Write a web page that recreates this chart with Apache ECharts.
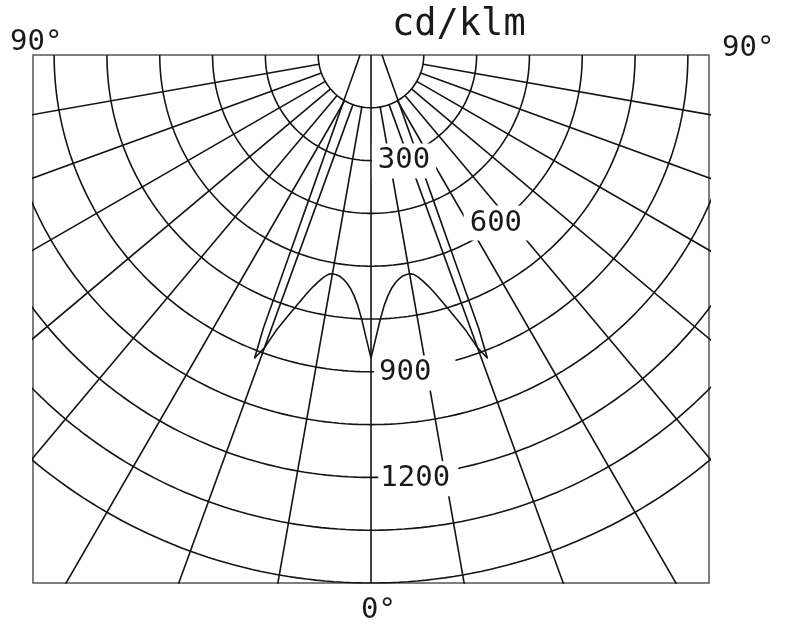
<!DOCTYPE html>
<html>
<head>
<meta charset="utf-8">
<script src="https://cdn.jsdelivr.net/npm/echarts@6/dist/echarts.min.js"></script>
<style>html,body{margin:0;padding:0;background:#fff}#c{width:789px;height:625px}</style>
</head>
<body>
<div id="c"></div>
<script>
// ---- data (cd/klm vs. angle from nadir, symmetric curve) ----
const curveAngles = [0,1,2,3,4,5,6,7,8,9,10,11,12,13,14,15,16,17,18,19,20,21,21.5,22,23,24,25,27.5,30,35,40,45,50,60,70,80,90];
const curveValues = [861,803,752,713,686,666,652,642,635,632,631,635,645,660,678,700,727,757,790,828,885,922,835,665,478,372,305,211,161,110,84,68,58,45,38,34,31];
// polar grid
const ringValues = [150,300,450,600,750,900,1050,1200,1350,1500];
const spokeAngles = [10,20,30,40,50,60,70,80];
// ring tick labels
const ringLabelTexts = ['300','600','900','1200'];
const ringLabelPlacement = [[307,17.8],[588,37.1],[900,6.2],[1202,6.0]]; // [radius, angle]
const ringLabelPadding = [[3,6,3,6],[3,6,3,6],[3,24,3,5],[3,8,3,2]];
const angleLabels = ['90°','90°','0°'];
const unitLabel = 'cd/klm';

const rMax = 1500, xHalf = 960;
const rad = a => a * Math.PI / 180;
const toXY = (r, a) => [r * Math.sin(rad(a)), r * Math.cos(rad(a))];

const lineColor = '#141414';
const lw = 1.6;
const font = 'DejaVu Sans Mono';
const series = [];

// circles (lower half)
ringValues.forEach(r => {
  const pts = [];
  for (let a = -90; a <= 90; a += 1) pts.push(toXY(r, a));
  series.push({type:'line', data:pts, showSymbol:false, silent:true, clip:true, z:2,
    lineStyle:{color:lineColor, width:lw}});
});
// spokes
spokeAngles.forEach(a => {
  [a, -a].forEach(s => {
    series.push({type:'line', data:[toXY(ringValues[0], s), toXY(3000, s)], showSymbol:false, silent:true, clip:true, z:2,
      lineStyle:{color:lineColor, width:lw}});
  });
});
// 0° axis
series.push({type:'line', data:[[0,0],[0,rMax]], showSymbol:false, silent:true, clip:true, z:2,
  lineStyle:{color:lineColor, width:lw}});

// intensity curve: left 90 -> 0 -> right 90
const curvePts = [];
for (let i = curveAngles.length - 1; i >= 0; i--) curvePts.push(toXY(curveValues[i], -curveAngles[i]));
for (let i = 1; i < curveAngles.length; i++) curvePts.push(toXY(curveValues[i], curveAngles[i]));
series.push({type:'line', data:curvePts, showSymbol:false, silent:true, clip:true, z:3,
  lineStyle:{color:lineColor, width:lw, join:'round'}});

// ring labels
series.push({type:'scatter', symbolSize:0, silent:true, z:10, itemStyle:{opacity:1},
  data: ringLabelPlacement.map((p, i) => {
    const pad = ringLabelPadding[i];
    return {value: toXY(p[0], p[1]), name: ringLabelTexts[i],
      label:{padding: pad, offset:[(pad[1] - pad[3]) / 2, 3]}};
  }),
  label:{show:true, position:'inside', formatter: p => p.name, color:'#1a1a1a', opacity:1, textBorderWidth:0,
    fontFamily:font, fontSize:29, backgroundColor:'#fff'}
});

const chart = echarts.init(document.getElementById('c'), null, {renderer:'canvas'});
chart.setOption({
  animation:false,
  backgroundColor:'#fff',
  grid:{left:33, right:80, top:55, bottom:42, show:true, borderColor:'#555', borderWidth:1.5, backgroundColor:'transparent'},
  xAxis:{type:'value', min:-xHalf, max:xHalf, show:false},
  yAxis:{type:'value', min:0, max:rMax, inverse:true, show:false},
  graphic:[
    {type:'text', left:392, top:7, style:{text:unitLabel, font:'37px "'+font+'"', fill:'#1a1a1a'}},
    {type:'text', left:10, top:28, style:{text:angleLabels[0], font:'29px "'+font+'"', fill:'#1a1a1a'}},
    {type:'text', left:722, top:34, style:{text:angleLabels[1], font:'29px "'+font+'"', fill:'#1a1a1a'}},
    {type:'text', left:361, top:596, style:{text:angleLabels[2], font:'29px "'+font+'"', fill:'#1a1a1a'}}
  ],
  series: series
});
</script>
</body>
</html>
